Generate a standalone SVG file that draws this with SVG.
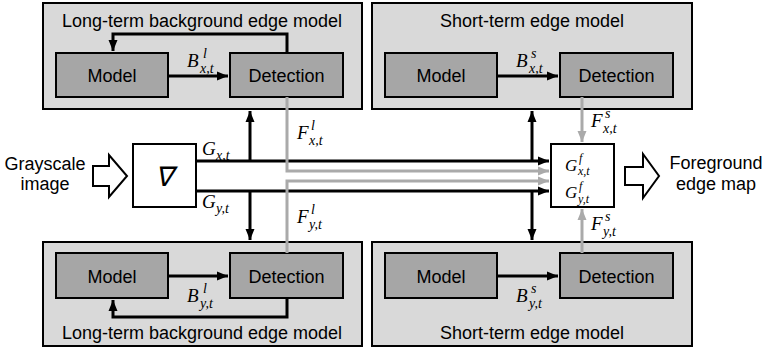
<svg xmlns="http://www.w3.org/2000/svg" width="763" height="348" viewBox="0 0 763 348">
<style>
.outer{fill:#d9d9d9;stroke:#000;stroke-width:2}
.inner{fill:#a6a6a6;stroke:#000;stroke-width:2}
.white{fill:#fff;stroke:#000;stroke-width:2}
.lbl{font-family:"Liberation Sans",Arial,sans-serif;font-size:18px;fill:#000;text-anchor:middle}
.m{font-family:"Liberation Serif","Times New Roman",serif;font-style:italic;font-size:19px;fill:#000}
.s{font-family:"Liberation Serif","Times New Roman",serif;font-style:italic;font-size:14px;fill:#000}
.blk{fill:none;stroke:#000;stroke-width:3}
.gry{fill:none;stroke:#aaaaaa;stroke-width:3}
</style>
<defs>
<marker id="ab" markerUnits="userSpaceOnUse" markerWidth="12" markerHeight="12" viewBox="0 0 12 12" refX="11" refY="6" orient="auto"><path d="M0,1.5 L11,6 L0,10.5 Z" fill="#000"/></marker>
<marker id="ag" markerUnits="userSpaceOnUse" markerWidth="12" markerHeight="12" viewBox="0 0 12 12" refX="11" refY="6" orient="auto"><path d="M0,1.5 L11,6 L0,10.5 Z" fill="#aaaaaa"/></marker>
</defs>

<g id="long-x">
<rect class="outer" x="43" y="3" width="319" height="106"/>
<text class="lbl" x="202" y="27">Long-term background edge model</text>
</g>
<g id="long-x-model"><rect class="inner" x="56" y="53" width="112" height="44"/><text class="lbl" x="112" y="82">Model</text></g>
<g id="long-x-detection"><rect class="inner" x="230" y="53" width="113" height="44"/><text class="lbl" x="286.5" y="82">Detection</text></g>

<g id="short-x">
<rect class="outer" x="372" y="3" width="320" height="106"/>
<text class="lbl" x="532" y="27">Short-term edge model</text>
</g>
<g id="short-x-model"><rect class="inner" x="385" y="53" width="112" height="44"/><text class="lbl" x="441" y="82">Model</text></g>
<g id="short-x-detection"><rect class="inner" x="560" y="53" width="113" height="44"/><text class="lbl" x="616.5" y="82">Detection</text></g>

<g id="long-y">
<rect class="outer" x="43" y="242" width="319" height="104"/>
<text class="lbl" x="202" y="339">Long-term background edge model</text>
</g>
<g id="long-y-model"><rect class="inner" x="56" y="253" width="112" height="45"/><text class="lbl" x="112" y="283">Model</text></g>
<g id="long-y-detection"><rect class="inner" x="230" y="253" width="113" height="45"/><text class="lbl" x="286.5" y="283">Detection</text></g>

<g id="short-y">
<rect class="outer" x="372" y="242" width="320" height="104"/>
<text class="lbl" x="532" y="339">Short-term edge model</text>
</g>
<g id="short-y-model"><rect class="inner" x="385" y="253" width="112" height="45"/><text class="lbl" x="441" y="283">Model</text></g>
<g id="short-y-detection"><rect class="inner" x="560" y="253" width="113" height="45"/><text class="lbl" x="616.5" y="283">Detection</text></g>

<g id="input">
<text class="lbl" x="45" y="170">Grayscale</text>
<text class="lbl" x="45" y="190">image</text>
<path d="M93,166 H109 V155 L127,176 L109,197 V186 H93 Z" fill="#fff" stroke="#000" stroke-width="2"/>
</g>

<g id="gradient">
<rect class="white" x="133" y="144" width="63" height="63"/>
<text class="m" x="164" y="186" text-anchor="middle" style="font-size:27px">∇</text>
</g>

<g id="fusion">
<rect class="white" x="551" y="144" width="63" height="63"/>
<text class="m" x="565" y="171" style="font-size:17px">G</text><text class="s" x="579" y="162" style="font-size:12px">f</text><text class="s" x="578" y="175" style="font-size:12px">x,t</text>
<text class="m" x="565" y="198" style="font-size:17px">G</text><text class="s" x="579" y="190" style="font-size:12px">f</text><text class="s" x="578" y="203" style="font-size:12px">y,t</text>
</g>

<g id="output">
<path d="M625,167 H643 V154 L659,176 L643,198 V185 H625 Z" fill="#fff" stroke="#000" stroke-width="2"/>
<text class="lbl" x="716" y="169">Foreground</text>
<text class="lbl" x="716" y="190">edge map</text>
</g>

<g id="connectors">
<path class="blk" d="M168,76 H228" marker-end="url(#ab)"/>
<path class="blk" d="M497,76 H558" marker-end="url(#ab)"/>
<path class="blk" d="M168,276 H228" marker-end="url(#ab)"/>
<path class="blk" d="M497,276 H558" marker-end="url(#ab)"/>
<path class="blk" d="M287,53 V34 H113 V51" marker-end="url(#ab)"/>
<path class="blk" d="M287,298 V317 H113 V300" marker-end="url(#ab)"/>
<path class="blk" d="M196,161 H549" marker-end="url(#ab)"/>
<path class="blk" d="M196,191 H549" marker-end="url(#ab)"/>
<path class="blk" d="M250,161 V111" marker-end="url(#ab)"/>
<path class="blk" d="M532,161 V111" marker-end="url(#ab)"/>
<path class="blk" d="M250,191 V240" marker-end="url(#ab)"/>
<path class="blk" d="M532,191 V240" marker-end="url(#ab)"/>
<path class="gry" d="M287,97 V171 H549" marker-end="url(#ag)"/>
<path class="gry" d="M287,253 V181 H549" marker-end="url(#ag)"/>
<path class="gry" d="M582,97 V142" marker-end="url(#ag)"/>
<path class="gry" d="M582,253 V209" marker-end="url(#ag)"/>
<text class="m" x="187" y="67">B</text><text class="s" x="203" y="58">l</text><text class="s" x="200" y="73">x,t</text>
<text class="m" x="516" y="67">B</text><text class="s" x="531" y="58">s</text><text class="s" x="529" y="73">x,t</text>
<text class="m" x="187" y="302">B</text><text class="s" x="203" y="293">l</text><text class="s" x="200" y="308">y,t</text>
<text class="m" x="516" y="302">B</text><text class="s" x="531" y="293">s</text><text class="s" x="529" y="308">y,t</text>
<text class="m" x="202" y="155">G</text><text class="s" x="216" y="160">x,t</text>
<text class="m" x="202" y="208">G</text><text class="s" x="216" y="213">y,t</text>
<text class="m" x="297" y="139">F</text><text class="s" x="311" y="130">l</text><text class="s" x="309" y="145">x,t</text>
<text class="m" x="297" y="223">F</text><text class="s" x="311" y="214">l</text><text class="s" x="309" y="229">y,t</text>
<text class="m" x="591" y="127">F</text><text class="s" x="605" y="118">s</text><text class="s" x="603" y="133">x,t</text>
<text class="m" x="591" y="230">F</text><text class="s" x="605" y="221">s</text><text class="s" x="603" y="236">y,t</text>
</g>
</svg>
